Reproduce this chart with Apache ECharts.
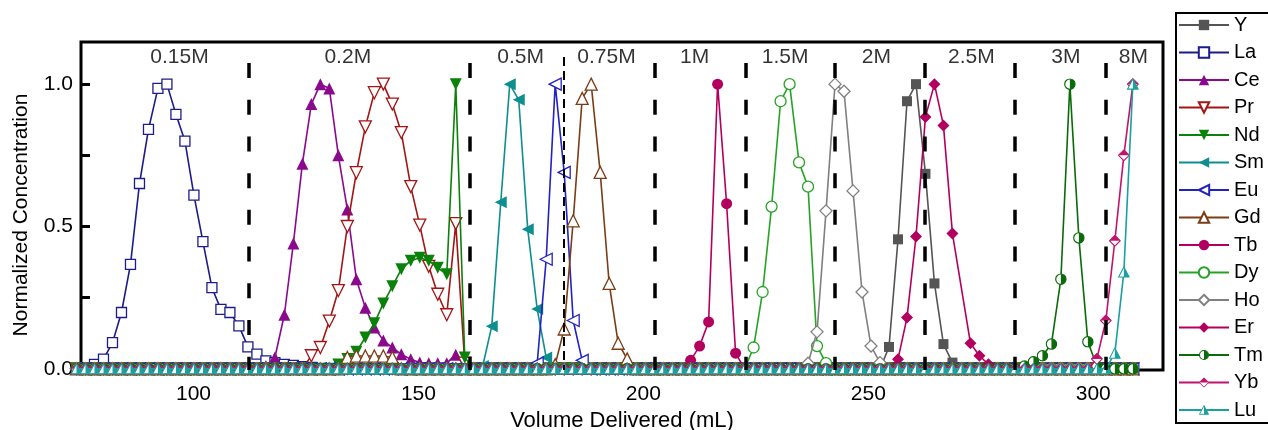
<!DOCTYPE html>
<html><head><meta charset="utf-8">
<script src="https://cdn.jsdelivr.net/npm/echarts@6/dist/echarts.min.js"></script>
<style>html,body{margin:0;padding:0;background:#fff}#c{width:1268px;height:430px}</style>
</head><body><div id="c"></div>
<script>
// Fraction volumes (mL), shared by all elements
const volumes = [74.0,76.0,78.0,80.0,82.0,84.0,86.0,88.0,90.0,92.1,
94.1,96.1,98.1,100.1,102.1,104.1,106.1,108.1,110.1,112.1,
114.1,116.1,118.1,120.2,122.2,124.2,126.2,128.2,130.2,132.2,
134.2,136.2,138.2,140.2,142.2,144.2,146.2,148.3,150.3,152.3,
154.3,156.3,158.3,160.3,162.3,164.3,166.3,168.3,170.3,172.3,
174.3,176.4,178.4,180.4,182.4,184.4,186.4,188.4,190.4,192.4,
194.4,196.4,198.4,200.4,202.4,204.4,206.5,208.5,210.5,212.5,
214.5,216.5,218.5,220.5,222.5,224.5,226.5,228.5,230.5,232.5,
234.6,236.6,238.6,240.6,242.6,244.6,246.6,248.6,250.6,252.6,
254.6,256.6,258.6,260.6,262.7,264.7,266.7,268.7,270.7,272.7,
274.7,276.7,278.7,280.7,282.7,284.7,286.7,288.7,290.7,292.8,
294.8,296.8,298.8,300.8,302.8,304.8,306.8,308.8];

const elements = ['Y','La','Ce','Pr','Nd','Sm','Eu','Gd','Tb','Dy','Ho','Er','Tm','Yb','Lu'];

const Y = [0,0,0,0,0,0,0,0,0,0, 0,0,0,0,0,0,0,0,0,0, 0,0,0,0,0,0,0,0,0,0, 0,0,0,0,0,0,0,0,0,0,
0,0,0,0,0,0,0,0,0,0, 0,0,0,0,0,0,0,0,0,0, 0,0,0,0,0,0,0,0,0,0, 0,0,0,0,0,0,0,0,0,0,
0,0,0,0,0,0,0,0,0,0, .077,.455,.94,1,.685,.30,.087,.022,0,0, 0,0,0,0,0,0,0,0,0,0, 0,0,0,0,0,0,0,0];
const La = [0,0,.016,.034,.092,.198,.367,.651,.841,.985, 1,.894,.80,.61,.447,.285,.209,.198,.151,.077,
.052,.028,.022,.016,.012,.008,.005,0,0,0, 0,0,0,0,0,0,0,0,0,0, 0,0,0,0,0,0,0,0,0,0,
0,0,0,0,0,0,0,0,0,0, 0,0,0,0,0,0,0,0,0,0, 0,0,0,0,0,0,0,0,0,0, 0,0,0,0,0,0,0,0,0,0,
0,0,0,0,0,0,0,0,0,0, 0,0,0,0,0,0,0,0,0,0, 0,0,0,0,0,0,0,0];
const Ce = [0,0,0,0,0,0,0,0,0,0, 0,0,0,0,0,0,0,0,0,0, 0,.01,.04,.19,.44,.72,.93,1,.985,.75,
.56,.315,.215,.145,.10,.075,.051,.034,.022,.02, .02,.02,.05,.01,0,0,0,0,0,0,
0,0,0,0,0,0,0,0,0,0, 0,0,0,0,0,0,0,0,0,0, 0,0,0,0,0,0,0,0,0,0, 0,0,0,0,0,0,0,0,0,0,
0,0,0,0,0,0,0,0,0,0, 0,0,0,0,0,0,0,0,0,0, 0,0,0,0,0,0,0,0];
const Pr = [0,0,0,0,0,0,0,0,0,0, 0,0,0,0,0,0,0,0,0,0, 0,0,0,0,0,0,.046,.075,.168,.275,
.50,.689,.85,.97,1,.93,.83,.64,.505,.36, .262,.19,.51,.02,0,0,0,0,0,0,
0,0,0,0,0,0,0,0,0,0, 0,0,0,0,0,0,0,0,0,0, 0,0,0,0,0,0,0,0,0,0, 0,0,0,0,0,0,0,0,0,0,
0,0,0,0,0,0,0,0,0,0, 0,0,0,0,0,0,0,0,0,0, 0,0,0,0,0,0,0,0];
const Nd = [0,0,0,0,0,0,0,0,0,0, 0,0,0,0,0,0,0,0,0,0, 0,0,0,0,0,0,0,0,0,.015,
.035,.06,.11,.16,.23,.29,.35,.38,.39,.38, .355,.332,1,.04,0,0,0,0,0,0,
0,0,0,0,0,0,0,0,0,0, 0,0,0,0,0,0,0,0,0,0, 0,0,0,0,0,0,0,0,0,0, 0,0,0,0,0,0,0,0,0,0,
0,0,0,0,0,0,0,0,0,0, 0,0,0,0,0,0,0,0,0,0, 0,0,0,0,0,0,0,0];
const Sm = [0,0,0,0,0,0,0,0,0,0, 0,0,0,0,0,0,0,0,0,0, 0,0,0,0,0,0,0,0,0,0, 0,0,0,0,0,0,0,0,0,0,
0,0,0,0,0,.01,.15,.585,1,.945, .49,.21,.04,0,0,0,0,0,0,0,
0,0,0,0,0,0,0,0,0,0, 0,0,0,0,0,0,0,0,0,0, 0,0,0,0,0,0,0,0,0,0,
0,0,0,0,0,0,0,0,0,0, 0,0,0,0,0,0,0,0,0,0, 0,0,0,0,0,0,0,0,0,0, 0,0,0,0,0,0,0,0];
const Eu = [0,0,0,0,0,0,0,0,0,0, 0,0,0,0,0,0,0,0,0,0, 0,0,0,0,0,0,0,0,0,0, 0,0,0,0,0,0,0,0,0,0,
0,0,0,0,0,0,0,0,0,0, 0,.02,.385,1,.69,.17,.03,0,0,0,
0,0,0,0,0,0,0,0,0,0, 0,0,0,0,0,0,0,0,0,0, 0,0,0,0,0,0,0,0,0,0,
0,0,0,0,0,0,0,0,0,0, 0,0,0,0,0,0,0,0,0,0, 0,0,0,0,0,0,0,0,0,0, 0,0,0,0,0,0,0,0];
const Gd = [0,0,0,0,0,0,0,0,0,0, 0,0,0,0,0,0,0,0,0,0, 0,0,0,0,0,0,0,0,0,0,
.04,.045,.045,.045,.045,.04,0,0,0,0, 0,0,0,0,0,0,0,0,0,0,
0,0,0,.015,.14,.52,.95,1,.69,.30, .09,.035,0,0,0,0,0,0,0,0,
0,0,0,0,0,0,0,0,0,0, 0,0,0,0,0,0,0,0,0,0, 0,0,0,0,0,0,0,0,0,0,
0,0,0,0,0,0,0,0,0,0, 0,0,0,0,0,0,0,0];
const Tb = [0,0,0,0,0,0,0,0,0,0, 0,0,0,0,0,0,0,0,0,0, 0,0,0,0,0,0,0,0,0,0, 0,0,0,0,0,0,0,0,0,0,
0,0,0,0,0,0,0,0,0,0, 0,0,0,0,0,0,0,0,0,0, 0,0,0,0,0,0,0,0,.03,.08,
.165,1,.58,.055,0,0,0,0,0,0, 0,0,0,0,0,0,0,0,0,0, 0,0,0,0,0,0,0,0,0,0,
0,0,0,0,0,0,0,0,0,0, 0,0,0,0,0,0,0,0];
const Dy = [0,0,0,0,0,0,0,0,0,0, 0,0,0,0,0,0,0,0,0,0, 0,0,0,0,0,0,0,0,0,0, 0,0,0,0,0,0,0,0,0,0,
0,0,0,0,0,0,0,0,0,0, 0,0,0,0,0,0,0,0,0,0, 0,0,0,0,0,0,0,0,0,0,
0,0,0,0,0,.075,.27,.57,.94,1, .725,.64,.08,.02,0,0,0,0,0,0,
0,0,0,0,0,0,0,0,0,0, 0,0,0,0,0,0,0,0,0,0, 0,0,0,0,0,0,0,0];
const Ho = [0,0,0,0,0,0,0,0,0,0, 0,0,0,0,0,0,0,0,0,0, 0,0,0,0,0,0,0,0,0,0, 0,0,0,0,0,0,0,0,0,0,
0,0,0,0,0,0,0,0,0,0, 0,0,0,0,0,0,0,0,0,0, 0,0,0,0,0,0,0,0,0,0, 0,0,0,0,0,0,0,0,0,0,
0,.02,.13,.555,1,.975,.625,.27,.08,.022, 0,0,0,0,0,0,0,0,0,0, 0,0,0,0,0,0,0,0,0,0, 0,0,0,0,0,0,0,0];
const Er = [0,0,0,0,0,0,0,0,0,0, 0,0,0,0,0,0,0,0,0,0, 0,0,0,0,0,0,0,0,0,0, 0,0,0,0,0,0,0,0,0,0,
0,0,0,0,0,0,0,0,0,0, 0,0,0,0,0,0,0,0,0,0, 0,0,0,0,0,0,0,0,0,0, 0,0,0,0,0,0,0,0,0,0,
0,0,0,0,0,0,0,0,0,0, 0,.034,.18,.465,.885,1,.855,.475,null,.09, .046,.016,0,0,0,0,0,0,0,0, 0,0,0,0,0,0,0,0];
const Tm = [0,0,0,0,0,0,0,0,0,0, 0,0,0,0,0,0,0,0,0,0, 0,0,0,0,0,0,0,0,0,0, 0,0,0,0,0,0,0,0,0,0,
0,0,0,0,0,0,0,0,0,0, 0,0,0,0,0,0,0,0,0,0, 0,0,0,0,0,0,0,0,0,0, 0,0,0,0,0,0,0,0,0,0,
0,0,0,0,0,0,0,0,0,0, 0,0,0,0,0,0,0,0,0,0, 0,0,0,0,0,.01,.025,.046,.087,.315, 1,.46,.095,.01,0,0,0,0];
const Yb = [0,0,0,0,0,0,0,0,0,0, 0,0,0,0,0,0,0,0,0,0, 0,0,0,0,0,0,0,0,0,0, 0,0,0,0,0,0,0,0,0,0,
0,0,0,0,0,0,0,0,0,0, 0,0,0,0,0,0,0,0,0,0, 0,0,0,0,0,0,0,0,0,0, 0,0,0,0,0,0,0,0,0,0,
0,0,0,0,0,0,0,0,0,0, 0,0,0,0,0,0,0,0,0,0, 0,0,0,0,0,0,0,0,0,0, 0,0,0,.035,.17,.45,.75,1];
const Lu = [0,0,0,0,0,0,0,0,0,0, 0,0,0,0,0,0,0,0,0,0, 0,0,0,0,0,0,0,0,0,0, 0,0,0,0,0,0,0,0,0,0,
0,0,0,0,0,0,0,0,0,0, 0,0,0,0,0,0,0,0,0,0, 0,0,0,0,0,0,0,0,0,0, 0,0,0,0,0,0,0,0,0,0,
0,0,0,0,0,0,0,0,0,0, 0,0,0,0,0,0,0,0,0,0, 0,0,0,0,0,0,0,0,0,0, 0,0,0,0,0,.055,.34,1];

// Eluent step boundaries (mL) and eluent concentration labels
const dividerVolumes = [112.2,161.5,202.6,222.7,242.6,262.6,282.6,302.7];
const thinDividerVolumes = [182.3];
const regionLabels = ['0.15M','0.2M','0.5M','0.75M','1M','1.5M','2M','2.5M','3M','8M'];
const regionLabelVolumes = [96.9,134.3,172.7,191.8,211.4,231.5,251.8,272.9,293.9,308.9];
const xTicks = [100,150,200,250,300];
const yLabelTicks = [0,0.5,1];
const yTicks = [0,0.25,0.5,0.75,1];

const values = {Y,La,Ce,Pr,Nd,Sm,Eu,Gd,Tb,Dy,Ho,Er,Tm,Yb,Lu};
const FONT = '"Liberation Sans", Arial, sans-serif';

function svgSym(inner){
  return 'image://data:image/svg+xml;charset=utf-8,' + encodeURIComponent(
    "<svg xmlns='http://www.w3.org/2000/svg' width='20' height='20' viewBox='0 0 20 20'>" + inner + "</svg>");
}
const halfCircle = c => svgSym(`<circle cx='10' cy='10' r='8.6' fill='#fff' stroke='${c}' stroke-width='2'/><path d='M10 1.4 A8.6 8.6 0 0 1 10 18.6 Z' fill='${c}'/>`);
const halfDiamond = c => svgSym(`<polygon points='10,1 19,10 10,19 1,10' fill='#fff' stroke='${c}' stroke-width='1.8'/><polygon points='10,1 19,10 1,10' fill='${c}'/>`);
const halfTriangle = c => svgSym(`<polygon points='10,1.5 18.8,18.3 1.2,18.3' fill='#fff' stroke='${c}' stroke-width='1.8'/><polygon points='10,1.5 18.8,18.3 10,18.3' fill='${c}'/>`);

const styles = {
  Y:  {color:'#555555', symbol:'rect', size:10},
  La: {color:'#1c1c8a', symbol:'rect', size:10, open:true},
  Ce: {color:'#8a0a8e', symbol:'triangle', size:12},
  Pr: {color:'#a31515', symbol:'triangle', size:12, rotate:180, open:true},
  Nd: {color:'#0a820a', symbol:'triangle', size:12, rotate:180},
  Sm: {color:'#0e8e8e', symbol:'triangle', size:12, rotate:90},
  Eu: {color:'#2222c0', symbol:'triangle', size:12, rotate:90, open:true},
  Gd: {color:'#7a3e17', symbol:'triangle', size:12, open:true},
  Tb: {color:'#b3005e', symbol:'circle', size:11},
  Dy: {color:'#26a326', symbol:'circle', size:11, open:true},
  Ho: {color:'#808080', symbol:'diamond', size:12, open:true},
  Er: {color:'#b3005e', symbol:'diamond', size:12},
  Tm: {color:'#0b6b0b', symbolFn:halfCircle, size:12},
  Yb: {color:'#c0136c', symbolFn:halfDiamond, size:12},
  Lu: {color:'#1aa0a0', symbolFn:halfTriangle, size:12}
};

const lineSeries = elements.map((name, idx) => {
  const st = styles[name];
  return {
    name, type:'line',
    data: volumes.map((v,k) => [v, values[name][k]]),
    symbol: st.symbolFn ? st.symbolFn(st.color) : st.symbol,
    symbolSize: st.size, symbolRotate: st.rotate || 0,
    showSymbol:true, showAllSymbol:true, clip:false, connectNulls:true,
    lineStyle:{color:st.color, width:1.6},
    itemStyle: st.open ? {color:'#ffffff', borderColor:st.color, borderWidth:1.3}
                       : {color:st.color, borderColor:st.color, borderWidth:0},
    emphasis:{disabled:true}, z: 3 + idx*0.01
  };
});

const thick = {color:'#000', width:3.5, type:[15,21.7]};
const thin = {color:'#000', width:2, type:[9,5]};
const labelSeries = {
  name:'regions', type:'scatter', silent:true, clip:false, z:2,
  symbolSize:1, itemStyle:{color:'transparent'},
  data: regionLabelVolumes.map((v,i) => ({value:[v,1.093], name:regionLabels[i]})),
  label:{show:true, position:'inside', formatter:p => p.name, color:'#000', fontSize:21, fontFamily:FONT},
  markLine:{
    silent:true, symbol:['none','none'], label:{show:false}, animation:false,
    lineStyle:thick,
    data: dividerVolumes.map(v => [{coord:[v,1.074], lineStyle:thick},{coord:[v,-0.004]}])
      .concat(thinDividerVolumes.map(v => [{coord:[v,1.095], lineStyle:thin},{coord:[v,-0.004]}]))
  }
};

const chart = echarts.init(document.getElementById('c'), null, {renderer:'canvas'});
chart.setOption({
  animation:false,
  backgroundColor:'#fff',
  textStyle:{fontFamily:FONT},
  grid:{left:81, top:42, width:1082, height:328, show:true, borderColor:'#000', borderWidth:3,
        backgroundColor:'transparent', containLabel:false, outerBoundsMode:'none'},
  legend:{
    orient:'vertical', left:1176, top:13, data:elements,
    itemWidth:50, itemHeight:13, itemGap:7.5,
    padding:[2,40,3,2], borderColor:'#000', borderWidth:2,
    textStyle:{fontSize:20, lineHeight:20, color:'#000', fontFamily:FONT},
    selectedMode:false
  },
  xAxis:{
    type:'value', min:75, max:315.5,
    name:'Volume Delivered (mL)', nameLocation:'middle', nameGap:36,
    nameTextStyle:{fontSize:22, color:'#000', fontFamily:FONT},
    axisLine:{show:false},
    axisTick:{show:true, inside:true, length:6, customValues:xTicks, lineStyle:{color:'#000', width:2.5}},
    axisLabel:{customValues:xTicks, fontSize:21, color:'#000', margin:14, fontFamily:FONT},
    splitLine:{show:false}
  },
  yAxis:{
    type:'value', min:-0.004, max:1.148,
    name:'Normalized Concentration', nameLocation:'middle', nameGap:49,
    nameTextStyle:{fontSize:21, color:'#000', fontFamily:FONT, padding:[0,18,0,0]},
    axisLine:{show:false},
    axisTick:{show:true, inside:true, length:9, customValues:yTicks, lineStyle:{color:'#000', width:3}},
    axisLabel:{customValues:yLabelTicks, formatter:v => Number(v).toFixed(1), fontSize:21, color:'#000', margin:8, fontFamily:FONT},
    splitLine:{show:false}
  },
  series:[labelSeries].concat(lineSeries)
});
</script></body></html>
